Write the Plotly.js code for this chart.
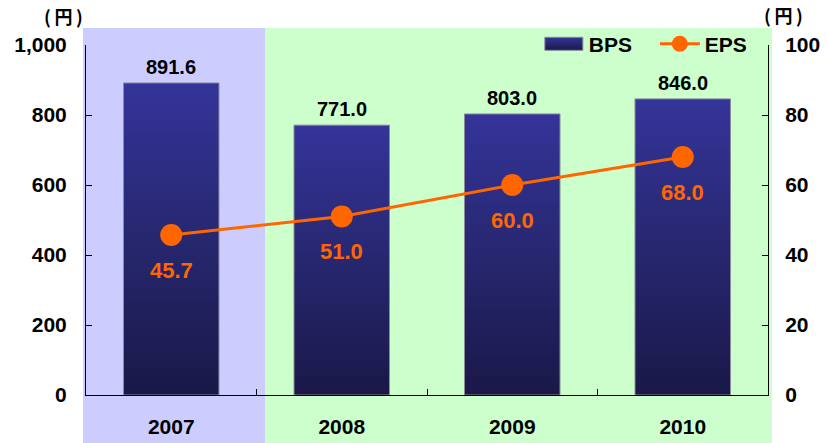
<!DOCTYPE html>
<html>
<head>
<meta charset="utf-8">
<script src="https://cdn.plot.ly/plotly-3.0.1.min.js"></script>
<style>
  html, body { margin: 0; padding: 0; background: #ffffff; }
  #chart { width: 827px; height: 443px; }
</style>
</head>
<body>
<div id="chart"></div>
<script>
// Fiscal years and per-share figures (yen)
const years = ['2007', '2008', '2009', '2010'];
const bps = [891.6, 771.0, 803.0, 846.0];
const eps = [45.7, 51.0, 60.0, 68.0];
const bpsTicks = [0, 200, 400, 600, 800, 1000];
const epsTicks = [0, 20, 40, 60, 80, 100];

const FONT = '"Liberation Sans", Arial, sans-serif';
const CJK = '"Noto Sans CJK JP", "Noto Sans", sans-serif';
const ORANGE = '#ff6600';

const bpsTrace = {
  type: 'bar',
  name: 'BPS',
  x: years,
  y: bps,
  width: 0.56,
  marker: { color: '#333399', line: { color: '#8a8a9a', width: 1 } },
  hoverinfo: 'skip'
};

const epsTrace = {
  type: 'scatter',
  mode: 'lines+markers',
  name: 'EPS',
  x: years,
  y: eps,
  yaxis: 'y2',
  line: { color: ORANGE, width: 3 },
  marker: { color: ORANGE, size: 22 },
  hoverinfo: 'skip'
};

// Value labels: BPS above each bar, EPS below each point
// (x given as the category index of each year)
const annotations = [];
years.forEach((yr, i) => {
  annotations.push({
    x: i, y: bps[i], xref: 'x', yref: 'y',
    text: bps[i].toFixed(1), showarrow: false,
    yanchor: 'bottom', yshift: 3,
    font: { family: FONT, size: 20, color: '#000000', weight: 'bold' }
  });
  annotations.push({
    x: i, y: eps[i], xref: 'x', yref: 'y2',
    text: eps[i].toFixed(1), showarrow: false,
    yanchor: 'middle', yshift: -35,
    font: { family: FONT, size: 22, color: ORANGE, weight: 'bold' }
  });
});

// Unit captions over each value axis
const unitLabel = '(\u2009円\u2009)';
annotations.push({
  xref: 'paper', yref: 'paper', x: -0.033, y: 1.083,
  text: unitLabel, showarrow: false, xanchor: 'center', yanchor: 'middle',
  font: { family: CJK, size: 18, color: '#000000', weight: 'bold' }
});
annotations.push({
  xref: 'paper', yref: 'paper', x: 1.022, y: 1.086,
  text: unitLabel, showarrow: false, xanchor: 'center', yanchor: 'middle',
  font: { family: CJK, size: 18, color: '#000000', weight: 'bold' }
});

const layout = {
  width: 827,
  height: 443,
  margin: { l: 86, r: 59, t: 45, b: 48 },
  paper_bgcolor: '#ffffff',
  plot_bgcolor: 'rgba(0,0,0,0)',
  showlegend: true,
  legend: {
    orientation: 'h',
    x: 0.664, xanchor: 'left',
    y: 1.061, yanchor: 'top',
    itemwidth: 40,
    entrywidth: 61,
    entrywidthmode: 'pixels',
    bgcolor: 'rgba(0,0,0,0)',
    font: { family: FONT, size: 21, color: '#000000', weight: 'bold' },
    traceorder: 'normal'
  },
  font: { family: FONT, color: '#000000' },
  xaxis: {
    type: 'category',
    categoryarray: years,
    range: [-0.5, years.length - 0.5],
    tickson: 'boundaries',
    ticks: 'inside', ticklen: 6, tickcolor: '#000000', tickwidth: 1,
    showline: true, linecolor: '#000000', linewidth: 1,
    showgrid: false, zeroline: false,
    ticklabelstandoff: 13,
    tickfont: { family: FONT, size: 21, color: '#000000', weight: 'bold' },
    fixedrange: true
  },
  yaxis: {
    range: [0, 1000],
    tickvals: bpsTicks,
    tickformat: ',',
    ticks: 'inside', ticklen: 6, tickcolor: '#000000', tickwidth: 1,
    showline: true, linecolor: '#000000', linewidth: 1,
    showgrid: false, zeroline: false,
    ticklabelstandoff: 14,
    tickfont: { family: FONT, size: 21, color: '#000000', weight: 'bold' },
    fixedrange: true
  },
  yaxis2: {
    range: [0, 100],
    tickvals: epsTicks,
    overlaying: 'y',
    side: 'right',
    ticks: 'inside', ticklen: 6, tickcolor: '#000000', tickwidth: 1,
    showline: true, linecolor: '#000000', linewidth: 1,
    showgrid: false, zeroline: false,
    ticklabelstandoff: 12,
    tickfont: { family: FONT, size: 21, color: '#000000', weight: 'bold' },
    fixedrange: true
  },
  // Shaded year panels behind the plot
  shapes: [
    { type: 'rect', xref: 'paper', yref: 'paper', layer: 'below',
      x0: -0.0044, x1: 0.2625, y0: -0.137, y1: 1.0486,
      fillcolor: '#ccccff', line: { width: 0 } },
    { type: 'rect', xref: 'paper', yref: 'paper', layer: 'below',
      x0: 0.2625, x1: 1.0059, y0: -0.137, y1: 1.0486,
      fillcolor: '#ccffcc', line: { width: 0 } }
  ],
  annotations: annotations
};

Plotly.newPlot('chart', [bpsTrace, epsTrace], layout, { staticPlot: true, displayModeBar: false })
  .then(gd => {
    // Vertical blue-to-navy gradient for the bars and the legend swatch
    const svg = gd.querySelector('svg.main-svg');
    const ns = 'http://www.w3.org/2000/svg';
    let defs = svg.querySelector('defs');
    if (!defs) { defs = document.createElementNS(ns, 'defs'); svg.insertBefore(defs, svg.firstChild); }
    const grad = document.createElementNS(ns, 'linearGradient');
    grad.setAttribute('id', 'bpsGrad');
    grad.setAttribute('x1', '0'); grad.setAttribute('y1', '0');
    grad.setAttribute('x2', '0'); grad.setAttribute('y2', '1');
    [['0', '#34349a'], ['0.5', '#272770'], ['1', '#1a1848']].forEach(([o, c]) => {
      const s = document.createElementNS(ns, 'stop');
      s.setAttribute('offset', o); s.setAttribute('stop-color', c);
      grad.appendChild(s);
    });
    defs.appendChild(grad);

    gd.querySelectorAll('.barlayer .point path').forEach(p => {
      p.style.fill = 'url(#bpsGrad)';
    });

    const legendBar = gd.querySelector('.legend .traces .legendpoints path');
    if (legendBar) {
      legendBar.setAttribute('d', 'M19,6.5H-19V-6.5H19Z');
      legendBar.style.fill = 'url(#bpsGrad)';
      legendBar.style.stroke = '#8a8a9a';
      legendBar.style.strokeWidth = '1px';
    }
  });
</script>
</body>
</html>
